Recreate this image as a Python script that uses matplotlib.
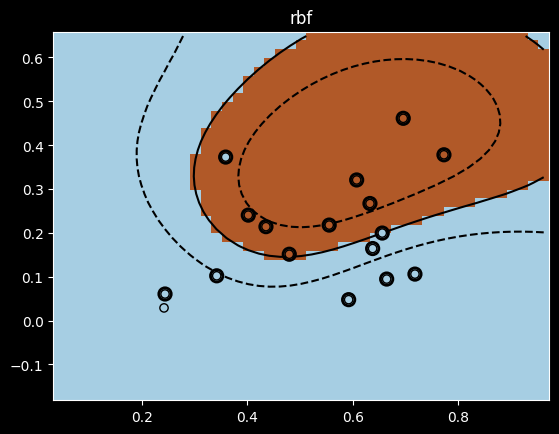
import numpy as np
import matplotlib
matplotlib.use("Agg")
import matplotlib.pyplot as plt

x_vals = [0.2442, 0.2423, 0.3422, 0.3592, 0.4021, 0.4356, 0.4798, 0.5555, 0.5924,
          0.6076, 0.6328, 0.6379, 0.6561, 0.6645, 0.6959, 0.7181, 0.7731]
y_vals = [0.0605, 0.0288, 0.1020, 0.3728, 0.2404, 0.2141, 0.1512, 0.2177, 0.0476,
          0.3206, 0.2669, 0.1642, 0.1995, 0.0946, 0.4612, 0.1059, 0.3780]
labels = [0, 0, 0, 0, 1, 1, 1, 1, 0, 1, 1, 0, 0, 0, 1, 0, 1]
title = "rbf"
C_param = 1.0
contour_levels = [-0.5, 0, 0.5]


def rbf(A, B, gamma):
    d2 = ((A[:, None, :] - B[None, :, :]) ** 2).sum(-1)
    return np.exp(-gamma * d2)


def fit_svc(X, y01, C, gamma, tol=1e-6, max_iter=200000):
    """Small SMO solver for the SVC dual (same formulation as libsvm)."""
    y = np.where(np.asarray(y01) == 1, 1.0, -1.0)
    K = rbf(X, X, gamma)
    Q = y[:, None] * y[None, :] * K
    n = len(y)
    a = np.zeros(n)
    G = -np.ones(n)
    for _ in range(max_iter):
        up = ((y > 0) & (a < C)) | ((y < 0) & (a > 0))
        low = ((y > 0) & (a > 0)) | ((y < 0) & (a < C))
        mG = -y * G
        iu = np.where(up)[0]
        il = np.where(low)[0]
        i = iu[np.argmax(mG[iu])]
        j = il[np.argmin(mG[il])]
        if mG[i] - mG[j] < tol:
            break
        ai, aj = a[i], a[j]
        if y[i] != y[j]:
            quad = max(Q[i, i] + Q[j, j] + 2 * Q[i, j], 1e-12)
            delta = (-G[i] - G[j]) / quad
            diff = a[i] - a[j]
            a[i] += delta
            a[j] += delta
            if diff > 0:
                if a[j] < 0:
                    a[j] = 0; a[i] = diff
            else:
                if a[i] < 0:
                    a[i] = 0; a[j] = -diff
            if diff > 0:
                if a[i] > C:
                    a[i] = C; a[j] = C - diff
            else:
                if a[j] > C:
                    a[j] = C; a[i] = C + diff
        else:
            quad = max(Q[i, i] + Q[j, j] - 2 * Q[i, j], 1e-12)
            delta = (G[i] - G[j]) / quad
            s = a[i] + a[j]
            a[i] -= delta
            a[j] += delta
            if s > C:
                if a[i] > C:
                    a[i] = C; a[j] = s - C
            else:
                if a[j] < 0:
                    a[j] = 0; a[i] = s
            if s > C:
                if a[j] > C:
                    a[j] = C; a[i] = s - C
            else:
                if a[i] < 0:
                    a[i] = 0; a[j] = s
        G += Q[:, i] * (a[i] - ai) + Q[:, j] * (a[j] - aj)
    yG = y * G
    ub, lb, free = np.inf, -np.inf, []
    for k in range(n):
        if a[k] >= C:
            if y[k] < 0: ub = min(ub, yG[k])
            else: lb = max(lb, yG[k])
        elif a[k] <= 0:
            if y[k] > 0: ub = min(ub, yG[k])
            else: lb = max(lb, yG[k])
        else:
            free.append(yG[k])
    rho = np.mean(free) if free else (ub + lb) / 2
    return a * y, rho, a > 1e-8


X = np.c_[x_vals, y_vals]
Y = np.array(labels)
gamma = 1.0 / (X.shape[1] * X.var())   # gamma='scale'
coef, rho, is_sv = fit_svc(X, Y, C_param, gamma)

h = 0.02
x_min, x_max = X[:, 0].min() - 0.2, X[:, 0].max() + 0.2
y_min, y_max = X[:, 1].min() - 0.2, X[:, 1].max() + 0.2
xx, yy = np.meshgrid(np.arange(x_min, x_max, h), np.arange(y_min, y_max, h))
grid = np.c_[xx.ravel(), yy.ravel()]
Z = (rbf(grid, X, gamma) @ coef - rho).reshape(xx.shape)

plt.style.use("dark_background")
fig = plt.figure(figsize=(5.59, 4.35), dpi=100)
ax = fig.add_axes([0.0953, 0.0782, 0.8868, 0.8467])
ax.pcolormesh(xx, yy, Z > 0, cmap=plt.cm.Paired, shading="nearest")
ax.contour(xx, yy, Z, colors=["k", "k", "k"], linestyles=["--", "-", "--"],
           levels=contour_levels)
ax.scatter(X[is_sv, 0], X[is_sv, 1], s=80, facecolors="none", edgecolors="k",
           linewidths=2.0, zorder=10)
ax.scatter(X[:, 0], X[:, 1], c=Y, cmap=plt.cm.Paired, edgecolors="k",
           linewidths=1.0, s=36, zorder=10)
ax.set_title(title)
fig.savefig("out.png", dpi=100)
